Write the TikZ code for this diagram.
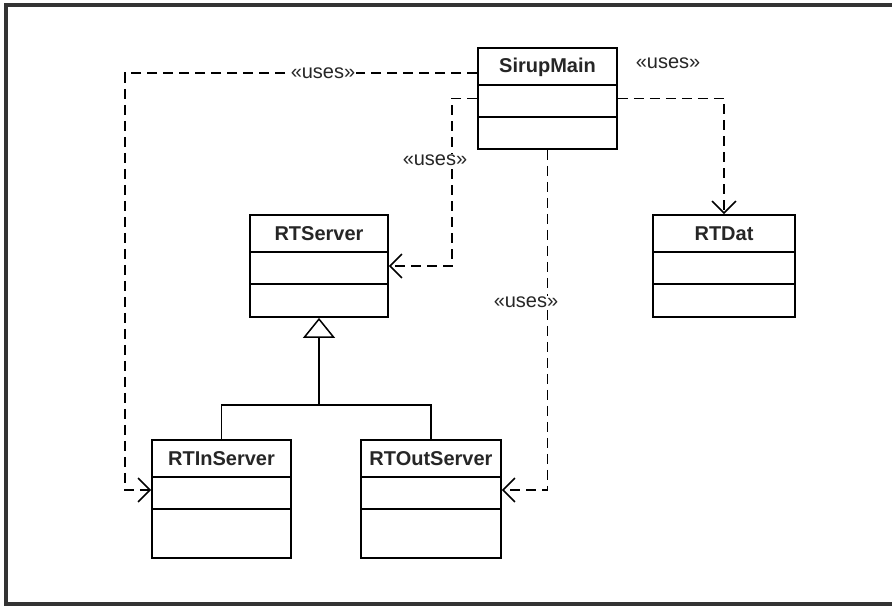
\documentclass[tikz,border=0pt]{standalone}
\usepackage{fontspec}
\setmainfont{Liberation Sans}
\usetikzlibrary{arrows.meta}
\begin{document}
\begin{tikzpicture}[x=1pt,y=-1pt,
  classbox/.style={draw=black, line width=1.8pt, inner sep=0pt, fill=white},
  cname/.style={font=\fontsize{20}{24}\selectfont\bfseries, text=black!85, inner sep=0pt},
  divider/.style={line width=1.8pt},
  uses/.style={draw=black, line width=1.6pt, dash pattern=on 10pt off 6pt, -{Straight Barb[length=12pt,width=24pt,line width=1.5pt]}},
  ulabel/.style={font=\fontsize{20}{24}\selectfont, text=black!85, inner sep=1pt},
  gen/.style={draw=black, line width=1.5pt},
  frame/.style={draw=black!80, line width=4pt}
]
\useasboundingbox (0,0) rectangle (892,607);
\fill[white] (0,0) rectangle (892,607);
\draw[frame] (892,5) -- (6,5) -- (6,604) -- (892,604);

% classes
\node[classbox, minimum width=139pt, minimum height=101pt] (sm) at (547.5,98.5) {};
\draw[divider] (478,85) -- (617,85);
\draw[divider] (478,117) -- (617,117);
\node[cname] (smt) at (547.5,67) {SirupMain};

\node[classbox, minimum width=142pt, minimum height=102pt] (rd) at (724,266) {};
\draw[divider] (653,252) -- (795,252);
\draw[divider] (653,284) -- (795,284);
\node[cname] (rdt) at (724,234) {RTDat};

\node[classbox, minimum width=138pt, minimum height=102pt] (rs) at (319,266) {};
\draw[divider] (250,252) -- (388,252);
\draw[divider] (250,284) -- (388,284);
\node[cname] (rst) at (319,234) {RTServer};

\node[classbox, minimum width=139pt, minimum height=118pt] (in) at (221.5,499) {};
\draw[divider] (152,477) -- (291,477);
\draw[divider] (152,509) -- (291,509);
\node[cname] (int) at (221.5,459) {RTInServer};

\node[classbox, minimum width=140pt, minimum height=118pt] (out) at (431,499) {};
\draw[divider] (361,477) -- (501,477);
\draw[divider] (361,509) -- (501,509);
\node[cname] (outt) at (431,459) {RTOutServer};

% generalization
\coordinate (j) at (319,405);
\draw[gen] (in.north) |- (j) -| (out.north);
\draw[gen, -{Triangle[open, length=20pt, width=32pt, line width=1.5pt]}] (j) -- (rs.south);

% uses dependencies
\draw[uses] ([yshift=25.5pt]sm.west) -- (125,73) |- ([yshift=9pt]in.west);
\draw[uses] (sm.west) -- (452,98.5) |- (rs.east);
\draw[uses] (sm.east) -| (rd.north);
\draw[uses] (sm.south) |- ([yshift=9pt]out.east);

% labels
\node[ulabel, fill=white] (l1) at (323,73) {«uses»};
\node[ulabel, fill=white] (l2) at (435,160) {«uses»};
\node[ulabel] (l3) at (668,63) {«uses»};
\node[ulabel, fill=white] (l4) at (526,302) {«uses»};
\end{tikzpicture}
\end{document}
